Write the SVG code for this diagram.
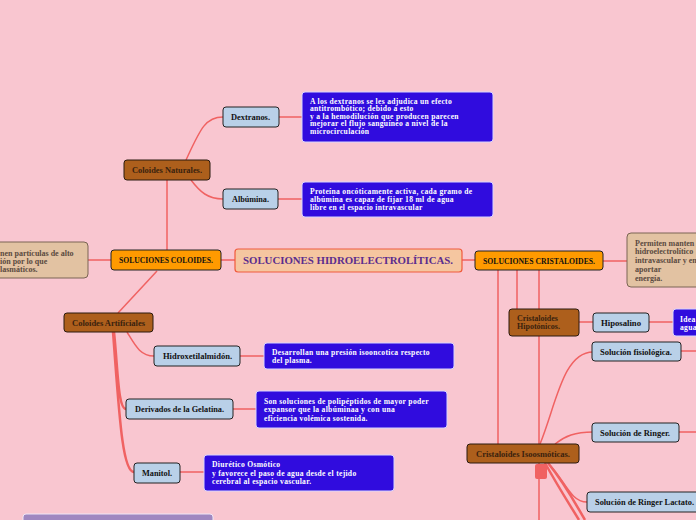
<svg xmlns="http://www.w3.org/2000/svg" width="696" height="520" viewBox="0 0 696 520">
<style>
text{font-family:"Liberation Serif","DejaVu Serif",serif;font-weight:bold;font-size:8px}
.c{fill:none;stroke:#f06262;stroke-width:1.5}
.ct{fill:none;stroke:#f06262;stroke-width:2.5}
.main rect{fill:#f5c6a0;stroke:#f05a3c;stroke-width:1.2}
.main text{fill:#5b2d8e;font-size:10px}
.org rect{fill:#ff9a00;stroke:#222;stroke-width:1}
.org text{fill:#111;font-size:8.5px}
.brn rect{fill:#ad5f1c;stroke:#2a1a0e;stroke-width:1}
.brn text{fill:#3a220e}
.lb rect{fill:#b9d0e8;stroke:#222;stroke-width:1}
.lb text{fill:#111}
.bl rect{fill:#300cde;stroke:#d8d4ff;stroke-width:1}
.bl text{fill:#fff;font-size:7.6px;letter-spacing:0.3px}
.tan rect{fill:#e2c2a2;stroke:#7a6454;stroke-width:1}
.tan text{fill:#5a4a40}
.knob{fill:#f06262}
</style>
<rect width="696" height="520" fill="#f9c6d0"/>
<g id="connectors">
<path class="c" d="M221,260H235M462,260H475M88,260H111M603,261H627"/>
<path class="c" d="M167,180V250"/>
<path class="c" d="M186,160C200,130 205,117 223,117"/>
<path class="c" d="M191,180C200,192 208,199 223,199"/>
<path class="c" d="M279,117H302M278,199H302"/>
<path class="c" d="M157,271L118,313"/>
<path class="c" d="M127,332C135,345 140,356 154,356"/>
<path class="ct" d="M114,332C118,370 118,409 126,409"/>
<path class="ct" d="M113,332C119,410 122,472 134,472"/>
<path class="c" d="M240,356H264M233,409H256M180,472H204"/>
<path class="c" d="M498,270V444M517,270V309M539,270V520"/>
<path class="c" d="M579,322H593M649,322H673"/>
<path class="c" d="M540,444C556,405 563,352 593,352"/>
<path class="c" d="M555,444C565,436 575,432 593,432"/>
<path class="c" d="M681,351H696M679,432H696"/>
<path class="c" d="M548,463C565,480 570,502 587,502"/>
<path class="ct" d="M548,463C566,485 576,505 585,520"/>
<path class="ct" d="M545,463C560,490 570,505 579,520"/>
<rect class="knob" x="535" y="464" width="12" height="15" rx="2"/>
</g>
<g id="central" class="main"><rect x="235" y="249" width="227" height="23" rx="3"/><text x="243" y="264" textLength="210" lengthAdjust="spacingAndGlyphs">SOLUCIONES HIDROELECTROLÍTICAS.</text></g>
<g id="coloides" class="org"><rect x="111" y="250" width="110" height="20" rx="3"/><text x="119" y="263" textLength="94" lengthAdjust="spacingAndGlyphs">SOLUCIONES COLOIDES.</text></g>
<g id="cristaloides" class="org"><rect x="475" y="251" width="128" height="19" rx="3"/><text x="483" y="263.5" textLength="112" lengthAdjust="spacingAndGlyphs">SOLUCIONES CRISTALOIDES.</text></g>
<g id="coloides-desc" class="tan"><rect x="-10" y="242" width="98" height="36" rx="4"/><text x="0" y="255.5">nen partículas de alto</text><text x="0" y="263.5">ión por lo que</text><text x="0" y="272">lasmáticos.</text></g>
<g id="cristaloides-desc" class="tan"><rect x="627" y="233" width="90" height="54" rx="4"/><text x="635" y="246">Permiten manten</text><text x="635" y="254">hidroelectrolítico</text><text x="635" y="263">intravascular y en</text><text x="635" y="272">aportar</text><text x="635" y="281">energía.</text></g>
<g id="naturales" class="brn"><rect x="124" y="160" width="86" height="20" rx="3"/><text x="132" y="173" textLength="70" lengthAdjust="spacingAndGlyphs">Coloides Naturales.</text></g>
<g id="dextranos" class="lb"><rect x="223" y="107" width="56" height="20" rx="3"/><text x="231" y="120" textLength="39" lengthAdjust="spacingAndGlyphs">Dextranos.</text></g>
<g id="albumina" class="lb"><rect x="223" y="189" width="55" height="20" rx="3"/><text x="232" y="202" textLength="37" lengthAdjust="spacingAndGlyphs">Albúmina.</text></g>
<g id="dextranos-desc" class="bl"><rect x="302" y="92" width="191" height="50" rx="3"/><text x="310" y="103.5">A los dextranos se les adjudica un efecto</text><text x="310" y="111">antitrombótico; debido a esto</text><text x="310" y="118.5">y a la hemodilución que producen parecen</text><text x="310" y="126">mejorar el flujo sanguíneo a nivel de la</text><text x="310" y="133.5">microcirculación</text></g>
<g id="albumina-desc" class="bl"><rect x="302" y="182" width="191" height="35" rx="3"/><text x="310" y="193.5">Proteína oncóticamente activa, cada gramo de</text><text x="310" y="201.5">albúmina es capaz de fijar 18 ml de agua</text><text x="310" y="209.5">libre en el espacio intravascular</text></g>
<g id="artificiales" class="brn"><rect x="64" y="313" width="89" height="19" rx="3"/><text x="72" y="325.5" textLength="73" lengthAdjust="spacingAndGlyphs">Coloides Artificiales</text></g>
<g id="hidroxetil" class="lb"><rect x="154" y="346" width="86" height="20" rx="3"/><text x="163" y="359" textLength="69" lengthAdjust="spacingAndGlyphs">Hidroxetilalmidón.</text></g>
<g id="gelatina" class="lb"><rect x="126" y="399" width="107" height="20" rx="3"/><text x="135" y="412" textLength="89" lengthAdjust="spacingAndGlyphs">Derivados de la Gelatina.</text></g>
<g id="manitol" class="lb"><rect x="134" y="463" width="46" height="20" rx="3"/><text x="142" y="476" textLength="30" lengthAdjust="spacingAndGlyphs">Manitol.</text></g>
<g id="hidroxetil-desc" class="bl"><rect x="264" y="343" width="190" height="26" rx="3"/><text x="272" y="354.5">Desarrollan una presión isooncotica respecto</text><text x="272" y="362.5">del plasma.</text></g>
<g id="gelatina-desc" class="bl"><rect x="256" y="391" width="191" height="37" rx="3"/><text x="264" y="403.5">Son soluciones de polipéptidos de mayor poder</text><text x="264" y="412">expansor que la albúminaa y con una</text><text x="264" y="420.5">eficiencia volémica sostenida.</text></g>
<g id="manitol-desc" class="bl"><rect x="204" y="455" width="190" height="36" rx="3"/><text x="212" y="466.5">Diurético Osmótico</text><text x="212" y="475.5"> y favorece el paso de agua desde el tejido</text><text x="212" y="484">cerebral al espacio vascular.</text></g>
<g id="purple-box"><rect x="23" y="514" width="190" height="20" rx="3" fill="#9f87c0" stroke="#efe6f6" stroke-width="1"/></g>
<g id="hipotonicos" class="brn"><rect x="509" y="309" width="70" height="27" rx="3"/><text x="517" y="320.5">Cristaloides</text><text x="517" y="329">Hipotónicos.</text></g>
<g id="hiposalino" class="lb"><rect x="593" y="313" width="56" height="19" rx="3"/><text x="601" y="325.5" textLength="40" lengthAdjust="spacingAndGlyphs">Hiposalino</text></g>
<g id="hiposalino-desc" class="bl"><rect x="673" y="309" width="40" height="27" rx="3"/><text x="680" y="321.5">Idea</text><text x="680" y="329.5">agua</text></g>
<g id="isoosmoticas" class="brn"><rect x="467" y="444" width="112" height="19" rx="3"/><text x="476" y="456.5" textLength="94" lengthAdjust="spacingAndGlyphs">Cristaloides Isoosmóticas.</text></g>
<g id="fisiologica" class="lb"><rect x="592" y="342" width="89" height="19" rx="3"/><text x="600" y="354.5" textLength="72" lengthAdjust="spacingAndGlyphs">Solución fisiológica.</text></g>
<g id="ringer" class="lb"><rect x="592" y="423" width="87" height="19" rx="3"/><text x="600" y="435.5" textLength="70" lengthAdjust="spacingAndGlyphs">Solución de Ringer.</text></g>
<g id="lactato" class="lb"><rect x="587" y="492" width="120" height="20" rx="3"/><text x="595" y="505" textLength="99" lengthAdjust="spacingAndGlyphs">Solución de Ringer Lactato.</text></g>
</svg>
